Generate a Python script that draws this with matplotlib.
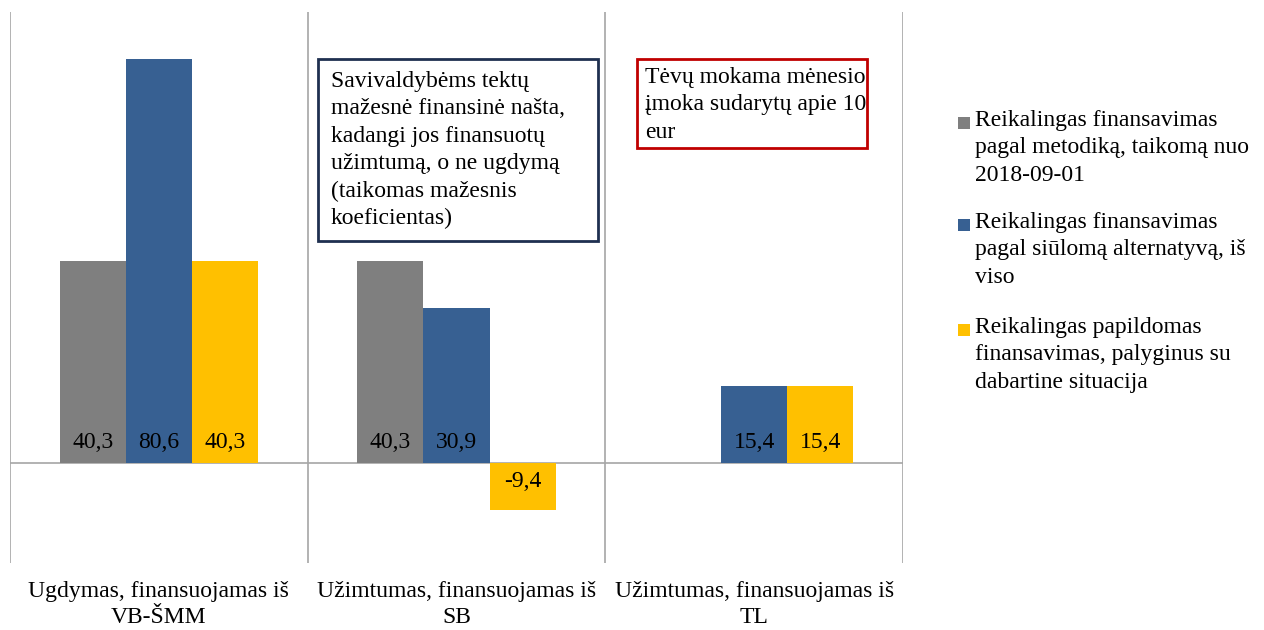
import matplotlib
matplotlib.use("Agg")
import matplotlib.pyplot as plt
from matplotlib.patches import Rectangle

plt.rcParams["font.family"] = ["Liberation Serif", "DejaVu Serif"]

categories = [
    "Ugdymas, finansuojamas iš\nVB-ŠMM",
    "Užimtumas, finansuojamas iš\nSB",
    "Užimtumas, finansuojamas iš\nTL",
]
series_names = [
    "Reikalingas finansavimas\npagal metodiką, taikomą nuo\n2018-09-01",
    "Reikalingas finansavimas\npagal siūlomą alternatyvą, iš\nviso",
    "Reikalingas papildomas\nfinansavimas, palyginus su\ndabartine situacija",
]
current_method = [40.3, 40.3, None]
proposed_total = [80.6, 30.9, 15.4]
additional_need = [40.3, -9.4, 15.4]
series_colors = ["#7f7f7f", "#376092", "#ffc000"]

note_municipal = ("Savivaldybėms tektų\nmažesnė finansinė našta,\nkadangi jos finansuotų\n"
                  "užimtumą, o ne ugdymą\n(taikomas mažesnis\nkoeficientas)")
note_parents = "Tėvų mokama mėnesio\nįmoka sudarytų apie 10\neur"

FS = 17
LS = 1.4
W, H = 1264, 630
fig = plt.figure(figsize=(W / 100, H / 100), dpi=100)
ax = fig.add_axes([10 / W, 1 - 563 / H, (903 - 10) / W, (563 - 12) / H])

bar_w = 2 / 9
all_series = [current_method, proposed_total, additional_need]
for i, (vals, col) in enumerate(zip(all_series, series_colors)):
    for j, v in enumerate(vals):
        if v is None:
            continue
        x = j + (i - 1) * bar_w
        ax.bar(x, v, width=bar_w, color=col, zorder=2)
        lbl = f"{v:.1f}".replace(".", ",")
        if v >= 0:
            ax.annotate(lbl, (x, 0), xytext=(0, 10), textcoords="offset pixels",
                        ha="center", va="bottom", fontsize=FS, color="black", zorder=3)
        else:
            ax.annotate(lbl, (x, 0), xytext=(0, -8), textcoords="offset pixels",
                        ha="center", va="top", fontsize=FS, color="black", zorder=3)

ax.set_xlim(-0.5, len(categories) - 0.5)
ax.set_ylim(-20, 90)
ax.axhline(0, color="#a6a6a6", lw=1.2, zorder=1)
for b in range(len(categories) + 1):
    ax.axvline(b - 0.5, color="#a6a6a6", lw=1.2, zorder=1)
for s in ax.spines.values():
    s.set_visible(False)
ax.set_yticks([])
ax.set_xticks(range(len(categories)))
ax.set_xticklabels(categories, fontsize=FS, linespacing=1.32)
ax.tick_params(axis="x", length=0, pad=13)


def note_box(x0, y0, x1, y1, text, edge, tx, ty):
    fig.patches.append(Rectangle((x0 / W, 1 - y1 / H), (x1 - x0) / W, (y1 - y0) / H,
                                 transform=fig.transFigure, facecolor="white",
                                 edgecolor=edge, lw=2, zorder=5))
    fig.text(tx / W, 1 - ty / H, text, ha="left", va="top", fontsize=FS,
             linespacing=LS, zorder=6)


note_box(318, 59, 598, 241, note_municipal, "#1f3050", 331, 71)
note_box(637, 59, 867, 148, note_parents, "#c00000", 645, 67)

# legend drawn by hand so the marker sits on the first line
legend_tops = [110, 212, 317]
for top, name, col in zip(legend_tops, series_names, series_colors):
    fig.patches.append(Rectangle((958 / W, 1 - (top + 19) / H), 12 / W, 12 / H,
                                 transform=fig.transFigure, facecolor=col, edgecolor="none"))
    fig.text(975 / W, 1 - top / H, name, ha="left", va="top", fontsize=FS, linespacing=LS)

fig.savefig("out.png", dpi=100, facecolor="white")
